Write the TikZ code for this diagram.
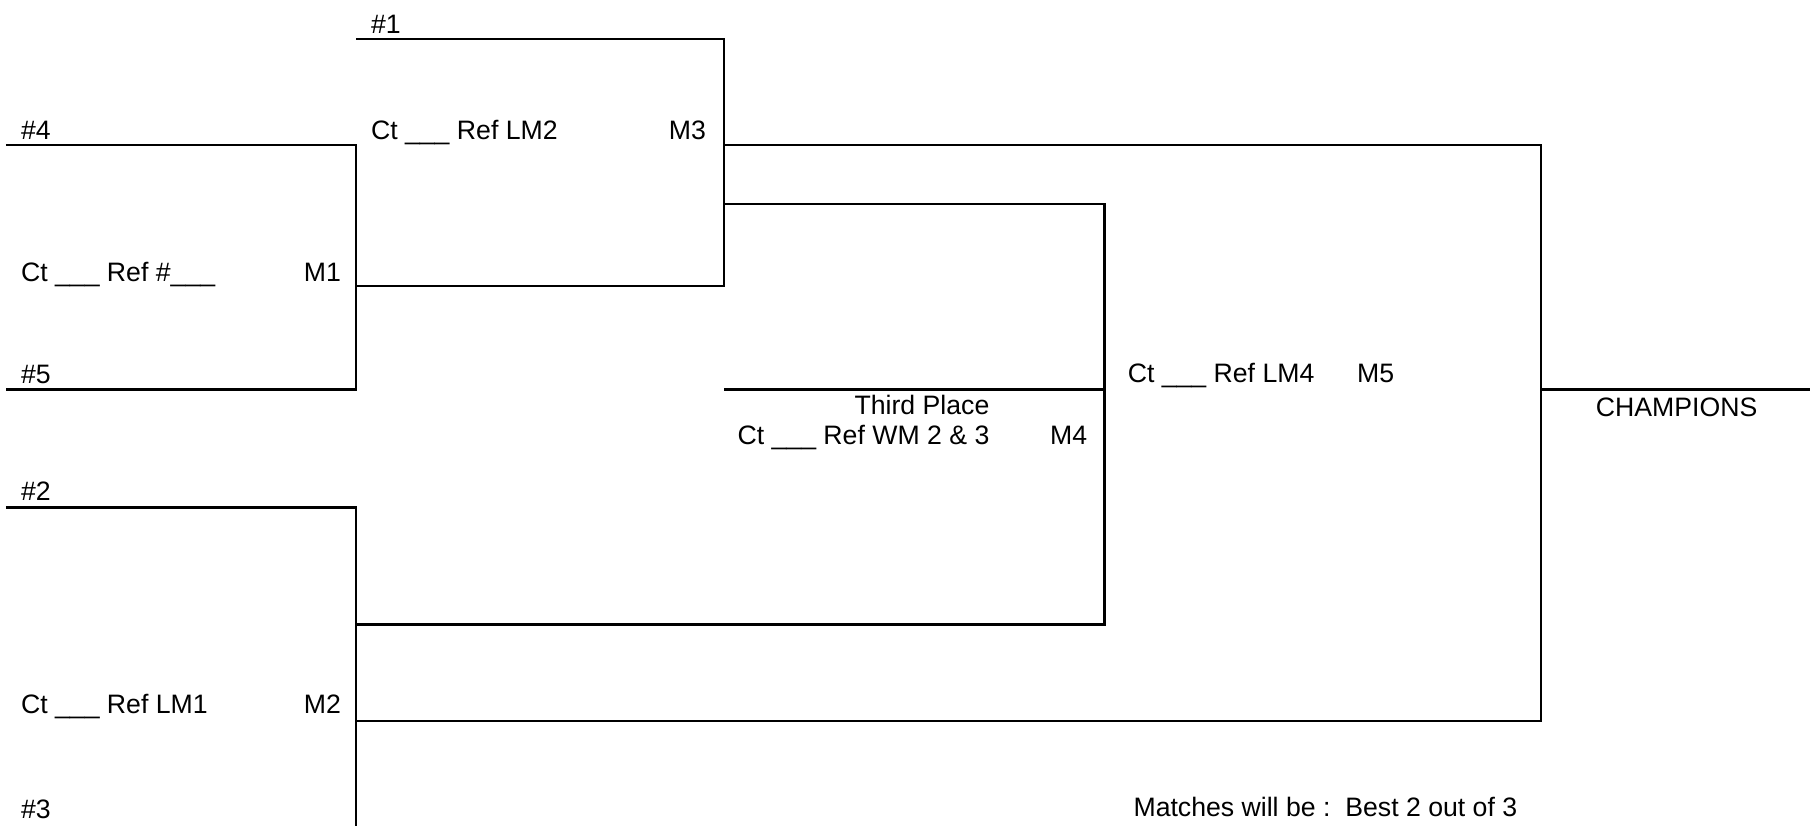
\documentclass[tikz,border=0pt]{standalone}
\usepackage{fontspec}
\setmainfont{Liberation Sans}
\begin{document}
\begin{tikzpicture}[x=1pt,y=-1pt,
  wire/.style={line width=2pt, line join=miter},
  lbl/.style={anchor=base west, inner sep=0pt, font=\fontsize{23}{27}\selectfont},
  lblr/.style={anchor=base east, inner sep=0pt, font=\fontsize{23}{27}\selectfont}]
\useasboundingbox (0,0) rectangle (1568,712);
% coordinates
\coordinate (s4) at (5,125);
\coordinate (s4e) at (307,125);
\coordinate (s5) at (5,336);
\coordinate (s5e) at (307,336);
\coordinate (m1) at (307,247);
\coordinate (m1e) at (625,247);
\coordinate (s1) at (307,33.5);
\coordinate (s1e) at (625,33.5);
\coordinate (m3) at (625,125);
\coordinate (m3e) at (1330,125);
\coordinate (l3) at (625,176);
\coordinate (l3e) at (953,176);
\coordinate (s2) at (5,438);
\coordinate (s2e) at (307,438);
\coordinate (s3e) at (307,714);
\coordinate (l2) at (307,539);
\coordinate (l2e) at (953,539);
\coordinate (m2) at (307,622);
\coordinate (m2e) at (1330,622);
\coordinate (t3) at (625,336);
\coordinate (m4) at (953,336);
\coordinate (m5) at (1330,336);
\coordinate (ch) at (1562,336);
% wires
\draw[wire] (s4) -- (s4e) -- (s5e) -- (s5);
\draw[wire] (m1) -- (m1e) -- (s1e) -- (s1);
\draw[wire] (m3) -- (m3e) -- (m2e) -- (m2);
\draw[wire] (l3) -- (l3e) -- (l2e) -- (l2);
\draw[wire] (s2) -- (s2e) -- (s3e);
\draw[wire] (t3) -- (m4);
\draw[wire] (m5) -- (ch);
% labels
\node[lbl] (n1) at (320,28.5) {\#1};
\node[lbl] (n4) at (18,120) {\#4};
\node[lbl] (c2) at (320,120) {Ct \_\_\_ Ref LM2};
\node[lbl] (lm3) at (577,120) {M3};
\node[lbl] (c1) at (18,242.5) {Ct \_\_\_ Ref \#\_\_\_};
\node[lbl] (lm1) at (262,242.5) {M1};
\node[lbl] (n5) at (18,331) {\#5};
\node[lbl] (n2) at (18,432) {\#2};
\node[lbl] (c3) at (18,615.5) {Ct \_\_\_ Ref LM1};
\node[lbl] (lm2) at (262,615.5) {M2};
\node[lbl] (n3) at (18,706) {\#3};
\node[lblr] (tp) at (854,358) {Third Place};
\node[lblr] (c4) at (854,384) {Ct \_\_\_ Ref WM 2 \& 3};
\node[lbl] (lm4) at (906,384) {M4};
\node[lbl] (c5) at (973,330.5) {Ct \_\_\_ Ref LM4};
\node[lbl] (lm5) at (1171,330.5) {M5};
\node[lbl] (champ) at (1377,359) {CHAMPIONS};
\node[lbl] (note) at (978,705) {Matches will be :\ \ Best 2 out of 3};
\end{tikzpicture}
\end{document}
